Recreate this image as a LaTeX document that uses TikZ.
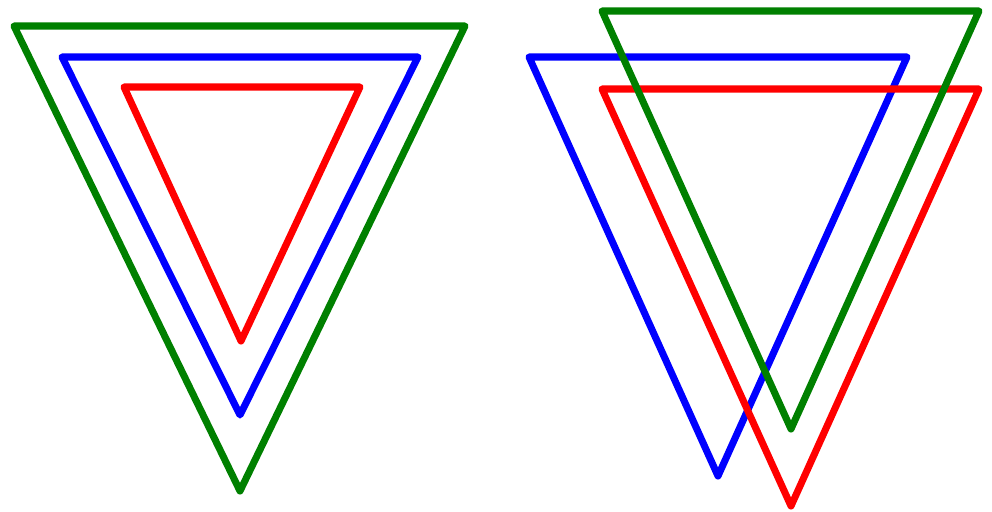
\documentclass[tikz,border=0pt]{standalone}
\begin{document}
\begin{tikzpicture}[x=0.025cm,y=-0.025cm,line width = 5pt,line join=round]
\useasboundingbox (0,0) rectangle (992,512);
% nested triangles
\draw [blue] (62,57) -- (418,57) -- (240,415) -- cycle;
\draw [red] (124,87) -- (360,87) -- (241,341) -- cycle;
\draw [green!50!black] (14,26) -- (465,26) -- (240,491) -- cycle;
% shifted triangles
\draw [blue] (529,57) -- (907,57) -- (718,476) -- cycle;
\draw [red] (602,89) -- (979,89) -- (791,506) -- cycle;
\draw [green!50!black] (602,11) -- (979,11) -- (791,429) -- cycle;
\end{tikzpicture}
\end{document}
